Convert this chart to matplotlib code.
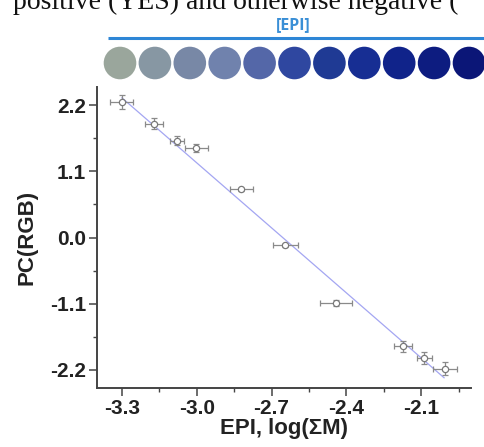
import numpy as np
import matplotlib.pyplot as plt
from matplotlib.patches import Circle

# calibration points
epi_log = [-3.30, -3.171, -3.08, -3.001, -2.821, -2.644, -2.441, -2.172, -2.087, -2.004]
pc_rgb = [2.25, 1.89, 1.61, 1.49, 0.80, -0.13, -1.08, -1.805, -2.005, -2.18]
x_err = [0.046, 0.037, 0.028, 0.047, 0.047, 0.052, 0.064, 0.035, 0.029, 0.047]
y_err = [0.11, 0.09, 0.08, 0.07, 0.03, 0.02, 0.05, 0.09, 0.10, 0.11]

# linear fit, end points
fit_x = [-3.30, -2.008]
fit_y = [2.32, -2.33]

x_ticks = [-3.3, -3.0, -2.7, -2.4, -2.1]
y_ticks = [2.2, 1.1, 0.0, -1.1, -2.2]

# colour of the test spots, low -> high concentration
spot_colors = ['#9aa69c', '#8797a3', '#7888a6', '#7082ad', '#5467a8', '#2f47a0',
               '#1f3a94', '#172e93', '#10238a', '#0d1c80', '#0b1677']

W, H = 484, 447
fig = plt.figure(figsize=(W / 100, H / 100), dpi=100)

ax = fig.add_axes([97 / W, 1 - 388 / H, (471 - 97) / W, (388 - 87) / H])
ax.plot(fit_x, fit_y, color='#a4a6f2', lw=0.9, zorder=1)
ax.errorbar(epi_log, pc_rgb, xerr=x_err, yerr=y_err, fmt='o', ms=4.5,
            mfc='white', mec='#7a7a7a', mew=0.9, ecolor='#8a8a8a',
            elinewidth=0.9, capsize=2.5, capthick=0.9, zorder=2)

ax.set_xlim(-3.4, -1.9)
ax.set_ylim(-2.5, 2.5)
ax.set_xticks(x_ticks)
ax.set_yticks(y_ticks)
ax.set_xticks([-3.15, -2.85, -2.55, -2.25, -1.95], minor=True)
ax.set_yticks([1.65, 0.55, -0.55, -1.65], minor=True)
ax.set_xticklabels([f'{v:.1f}' for v in x_ticks])
ax.set_yticklabels([f'{v:.1f}' for v in y_ticks])

for s in ['top', 'right']:
    ax.spines[s].set_visible(False)
for s in ['left', 'bottom']:
    ax.spines[s].set_color('#444444')
    ax.spines[s].set_linewidth(1.4)

ax.tick_params(which='major', length=6, width=1.1, color='#444444', pad=2)
ax.tick_params(which='minor', length=3, width=1.0, color='#444444')
for lab in ax.get_xticklabels() + ax.get_yticklabels():
    lab.set_fontfamily('Liberation Sans')
    lab.set_fontweight('bold')
    lab.set_fontsize(15)
    lab.set_color('#222222')

ax.set_xlabel('EPI, log(\u03a3M)', fontfamily='Liberation Sans', fontweight='bold',
              fontsize=16, color='#222222', labelpad=0)
ax.set_ylabel('PC(RGB)', fontfamily='Liberation Sans', fontweight='bold',
              fontsize=16, color='#222222', labelpad=9)

# top strip: caption fragment, arrow and coloured spots
top = fig.add_axes([0, 0, 1, 1], zorder=-1)
top.set_xlim(0, W)
top.set_ylim(H, 0)
top.axis('off')

top.text(13, 9, 'positive (YES) and otherwise negative (', fontfamily='Liberation Serif',
         fontsize=20, va='baseline', ha='left', color='#111111')
top.text(293, 25.5, '[EPI]', fontfamily='Open Sans', fontweight='bold', fontsize=11.5,
         color='#3a8fd6', ha='center', va='center')
top.plot([108, 490], [37.5, 37.5], color='#2e86d6', lw=2.2, solid_capstyle='butt')

for i, c in enumerate(spot_colors):
    top.add_patch(Circle((120 + 34.9 * i, 63), 16.3, color=c, lw=0))

fig.savefig('out.png', dpi=100)
